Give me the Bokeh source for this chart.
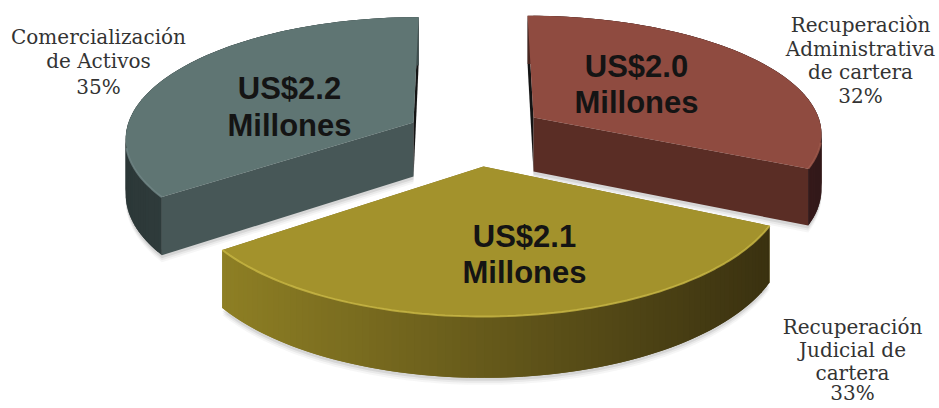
import math
from bokeh.plotting import figure
from bokeh.embed import file_html
from bokeh.resources import INLINE
from bokeh.core.properties import value

# --- data
categories = ["Recuperación Administrativa de cartera", "Recuperación Judicial de cartera", "Comercialización de Activos"]
shares = [32, 33, 35]
amounts = [2.0, 2.1, 2.2]
label_lines = [
    ["Recuperaciòn", "Administrativa", "de cartera", "32%"],
    ["Recuperación", "Judicial de", "cartera", "33%"],
    ["Comercialización", "de Activos", "35%"],
]

# --- layout and style, per slice (drawn green, red, yellow so yellow is in front)
K = 0.12
HEIGHT = 54
geom = [
    dict(cx=533, cy=117, rx=285, ry=114, lean=-0.058),
    dict(cx=483, cy=166, rx=300, ry=132, lean=0.0),
    dict(cx=413, cy=122, rx=285, ry=118, lean=0.048),
]
top_col = ["#8f4b40", "#a3922c", "#5f7573"]
side_col = ["#5a2d25", "#7d6e1d", "#475757"]
wall_l = ["#4a2620", "#8e7f24", "#2c3838"]
wall_r = ["#33191a", "#3a3110", "#3f4e4e"]
rim_col = ["#a05a4c", "#c9b845", "#6f8584"]
money_pos = [(636, 66, 102), (524, 236, 272), (289, 88, 125)]
label_pos = [(860, [24, 48, 71, 95]), (852, [326, 349, 372, 392]), (98, [36, 60, 86])]


def hex2rgb(c):
    return [int(c[i:i + 2], 16) for i in (1, 3, 5)]


def mix(a, b, f):
    ca, cb = hex2rgb(a), hex2rgb(b)
    return "#%02x%02x%02x" % tuple(round(x + (y - x) * f) for x, y in zip(ca, cb))


def project(g, t, r=1.0):
    X, Y = r * math.sin(t), r * math.cos(t)
    s = 1 / (1 + K * Y)
    py = g["cy"] - g["ry"] * Y * s
    px = g["cx"] + g["rx"] * X * s + g["lean"] * (g["cy"] - py)
    return px, py, s


p = figure(width=939, height=408, x_range=(0, 939), y_range=(408, 0),
           output_backend="svg", toolbar_location=None, min_border=0)
p.axis.visible = False
p.grid.visible = False
p.outline_line_color = None
p.background_fill_color = "#ffffff"
p.border_fill_color = "#ffffff"

total = sum(shares)
starts = []
acc = 0
for v in shares:
    starts.append(acc)
    acc += v

for i in (2, 0, 1):
    g = geom[i]
    t0 = starts[i] / total * 2 * math.pi
    t1 = (starts[i] + shares[i]) / total * 2 * math.pi
    n = 90
    ts = [t0 + (t1 - t0) * k / n for k in range(n + 1)]
    arc = [project(g, t) for t in ts]
    ax, ay = g["cx"], g["cy"]
    h = HEIGHT

    # soft shadow under the slice
    for d, a in ((7, 0.05), (5, 0.08), (3, 0.12)):
        sx = [ax] + [q[0] for q in arc]
        sy = [ay + h + d] + [q[1] + h * q[2] + d for q in arc]
        p.patch(sx, sy, fill_color="#555555", fill_alpha=a, line_color=None)

    # radial walls
    for e, col in ((arc[0], "#141414" if i == 0 else side_col[i]),
                   (arc[-1], "#141414" if i == 2 else side_col[i])):
        p.patch([ax, e[0], e[0], ax], [ay, e[1], e[1] + h * e[2], ay + h],
                fill_color=col, line_color=None)

    # outer wall, segments overlap by one step to hide seams
    xmin, xmax = min(q[0] for q in arc), max(q[0] for q in arc)
    for k in range(n):
        a_, b_ = arc[k], arc[min(k + 2, n)]
        f = ((arc[k][0] + arc[k + 1][0]) / 2 - xmin) / (xmax - xmin)
        c = mix(wall_l[i], wall_r[i], f)
        p.patch([a_[0], b_[0], b_[0], a_[0]],
                [a_[1], b_[1], b_[1] + h * b_[2], a_[1] + h * a_[2]],
                fill_color=c, line_color=None)

    # top face
    p.patch([ax] + [q[0] for q in arc], [ay] + [q[1] for q in arc],
            fill_color=top_col[i], line_color=None)
    # bright rim on the front of the top face
    front = [q for q, t in zip(arc, ts) if math.cos(t) < -0.2]
    if front:
        p.line([q[0] for q in front], [q[1] for q in front],
               line_color=rim_col[i], line_width=2, line_alpha=0.8)

    # amount label
    mx, y1, y2 = money_pos[i]
    p.text([mx, mx], [y1, y2], text=[f"US${amounts[i]:.1f}", "Millones"],
           text_font=value("Liberation Sans"), text_font_style="bold",
           text_font_size="31px", text_color="#141414",
           text_align="center", text_baseline="middle")

# category labels
for lines, (lx, ys) in zip(label_lines, label_pos):
    p.text([lx] * len(lines), ys, text=lines,
           text_font=value("DejaVu Serif"), text_font_size="20px", text_color="#333333",
           text_align="center", text_baseline="middle")

open("out.html", "w").write(file_html(p, INLINE))
